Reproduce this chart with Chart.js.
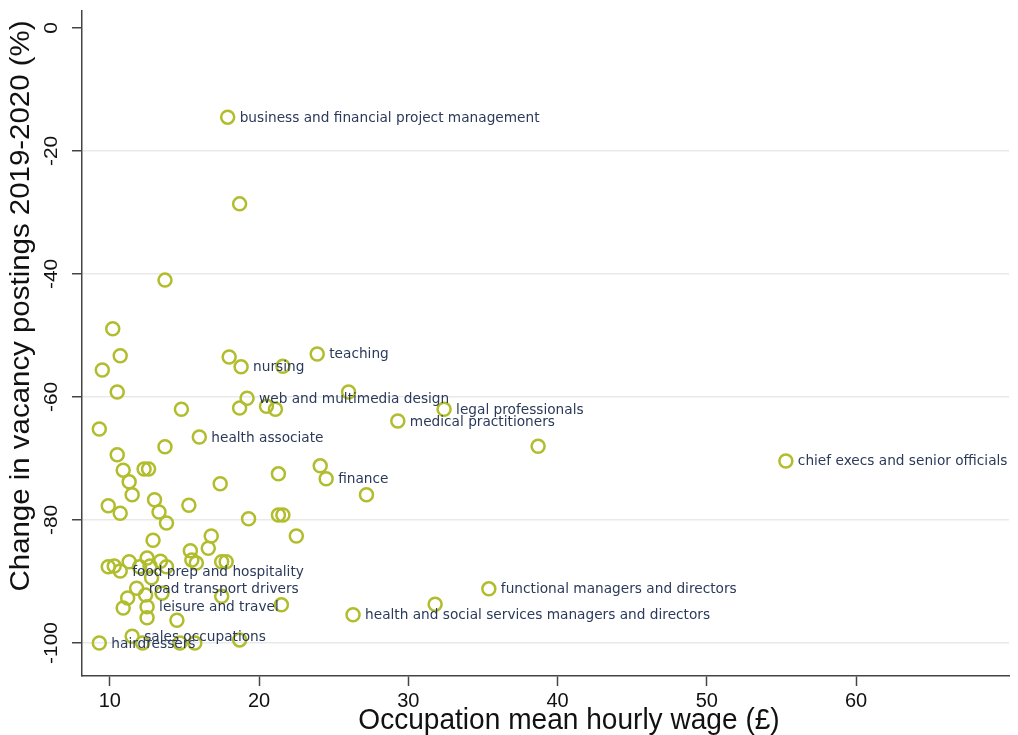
<!DOCTYPE html>
<html>
<head>
<meta charset="utf-8">
<script src="https://cdn.jsdelivr.net/npm/chart.js@4.4.1/dist/chart.umd.min.js"></script>
<style>
  html, body { margin: 0; padding: 0; background: #fff; }
  #wrap { width: 1018px; height: 735px; }
</style>
</head>
<body>
<div id="wrap"><canvas id="c" width="1018" height="735"></canvas></div>
<script>
// mean hourly wage (£) per occupation
const wages = [
  17.9, 18.7, 13.7, 10.2, 10.7, 9.5, 10.5, 9.3, 18.0, 18.8,
  21.6, 23.9, 26.0, 19.2, 18.7, 20.5, 21.1, 14.8, 32.4, 29.3,
  16.0, 13.7, 38.7, 55.3, 10.5, 10.9, 12.3, 12.6, 11.3, 11.5,
  21.3, 24.1, 24.5, 17.4, 27.2, 9.9, 10.7, 13.0, 13.3, 13.8,
  15.3, 19.3, 21.3, 21.6, 22.5, 12.9, 16.8, 16.6, 15.4, 15.5,
  15.8, 17.5, 17.8, 9.9, 10.3, 10.7, 11.3, 12.0, 12.5, 12.7,
  13.4, 13.8, 12.8, 11.8, 12.4, 11.2, 10.9, 12.5, 12.5, 13.5,
  14.5, 17.5, 21.5, 11.5, 9.3, 12.2, 14.7, 15.7, 18.7, 35.4,
  31.8, 26.3
];

// change in vacancy postings 2019-2020 (%)
const changes = [
  -14.5, -28.6, -41.0, -48.9, -53.3, -55.6, -59.2, -65.2, -53.5, -55.1,
  -55.0, -53.0, -59.2, -60.2, -61.8, -61.5, -62.0, -62.0, -62.0, -63.9,
  -66.5, -68.1, -68.0, -70.4, -69.4, -71.9, -71.7, -71.7, -73.8, -75.9,
  -72.5, -71.2, -73.3, -74.1, -75.9, -77.7, -78.9, -76.7, -78.7, -80.5,
  -77.6, -79.8, -79.2, -79.2, -82.6, -83.3, -82.6, -84.6, -85.0, -86.5,
  -87.0, -86.8, -86.8, -87.6, -87.5, -88.3, -86.8, -87.6, -86.2, -87.5,
  -86.7, -87.6, -89.4, -91.1, -92.2, -92.7, -94.3, -94.1, -95.9, -91.9,
  -96.3, -92.4, -93.8, -98.9, -100.0, -100.0, -100.0, -100.0, -99.5, -91.2,
  -93.7, -95.4
];

// marker labels ('' = unlabelled)
const occupations = [
  'business and financial project management', '', '', '', '', '', '', '', '', 'nursing',
  '', 'teaching', '', 'web and multimedia design', '', '', '', '', 'legal professionals', 'medical practitioners',
  'health associate', '', '', 'chief execs and senior officials', '', '', '', '', '', '',
  '', '', 'finance', '', '', '', '', '', '', '',
  '', '', '', '', '', '', '', '', '', '',
  '', '', '', '', '', 'food prep and hospitality', '', '', '', '',
  '', '', '', 'road transport drivers', '', '', '', 'leisure and travel', '', '',
  '', '', '', 'sales occupations', 'hairdressers', '', '', '', '', 'functional managers and directors',
  '', 'health and social services managers and directors'
];

const xTicks = [10, 20, 30, 40, 50, 60];
const yTicks = [0, -20, -40, -60, -80, -100];
const xTitle = 'Occupation mean hourly wage (£)';
const yTitle = 'Change in vacancy postings 2019-2020 (%)';

const FONT = '"Liberation Sans", Arial, sans-serif';

// labels next to the markers
const pointLabels = {
  id: 'pointLabels',
  afterDatasetsDraw(chart) {
    const { ctx, scales: { x, y } } = chart;
    ctx.save();
    ctx.font = '13.7px "DejaVu Sans", Verdana, sans-serif';
    ctx.fillStyle = '#2b3a5a';
    ctx.textBaseline = 'middle';
    occupations.forEach((name, i) => {
      if (!name) return;
      ctx.fillText(name, x.getPixelForValue(wages[i]) + 12, y.getPixelForValue(changes[i]) + 1);
    });
    ctx.restore();
  }
};

// stata-ish axis text: rotated y tick labels, titles
const axisText = {
  id: 'axisText',
  afterDraw(chart) {
    const { ctx, scales: { y } } = chart;
    ctx.save();
    ctx.fillStyle = '#111';
    ctx.textAlign = 'center';
    ctx.textBaseline = 'middle';
    ctx.font = '19px ' + FONT;
    y.ticks.forEach(t => {
      ctx.save();
      ctx.translate(52, y.getPixelForValue(t.value));
      ctx.rotate(-Math.PI / 2);
      ctx.scale(1.1, 1);
      ctx.fillText(String(t.value), 0, 0);
      ctx.restore();
    });

    ctx.font = '27px ' + FONT;
    ctx.save();
    ctx.translate(22, 306);
    ctx.rotate(-Math.PI / 2);
    ctx.scale(1.09, 1);
    ctx.fillText(yTitle, 0, 0);
    ctx.restore();

    ctx.save();
    ctx.translate(569, 721);
    ctx.scale(1.04, 1.08);
    ctx.fillText(xTitle, 0, 0);
    ctx.restore();
    ctx.restore();
  }
};

new Chart(document.getElementById('c'), {
  type: 'scatter',
  data: {
    datasets: [{
      data: wages.map((w, i) => ({ x: w, y: changes[i] })),
      pointStyle: 'circle',
      pointRadius: 6.5,
      pointHoverRadius: 6.5,
      pointBorderWidth: 2.5,
      borderColor: '#b1bd2c',
      pointBorderColor: '#b1bd2c',
      backgroundColor: 'rgba(0,0,0,0)',
      pointBackgroundColor: 'rgba(0,0,0,0)'
    }]
  },
  options: {
    responsive: false,
    animation: false,
    layout: { padding: { top: 11, right: 3, left: 0, bottom: 0 } },
    plugins: {
      legend: { display: false },
      tooltip: { enabled: false }
    },
    scales: {
      x: {
        type: 'linear',
        min: 8.14,
        max: 70.25,
        afterBuildTicks: s => { s.ticks = xTicks.map(v => ({ value: v })); },
        afterFit: s => { s.height = 59; },
        border: { display: true, color: '#444', width: 1.5 },
        grid: { drawOnChartArea: false, drawTicks: true, tickLength: 10, tickColor: '#444', tickWidth: 1.5 },
        ticks: {
          padding: 3,
          color: '#111',
          font: { family: FONT, size: 20 },
          maxRotation: 0
        }
      },
      y: {
        type: 'linear',
        min: -105.37,
        max: 2.76,
        afterBuildTicks: s => { s.ticks = yTicks.map(v => ({ value: v })); },
        afterFit: s => { s.width = 82; },
        border: { display: true, color: '#444', width: 1.5 },
        grid: {
          color: ctx => (ctx.tick && ctx.tick.value === 0) ? 'rgba(0,0,0,0)' : '#e9e9e9',
          lineWidth: 1.5,
          drawTicks: true,
          tickLength: 10,
          tickColor: '#444',
          tickWidth: 1.5
        },
        ticks: { display: false }
      }
    }
  },
  plugins: [pointLabels, axisText]
});
</script>
</body>
</html>
